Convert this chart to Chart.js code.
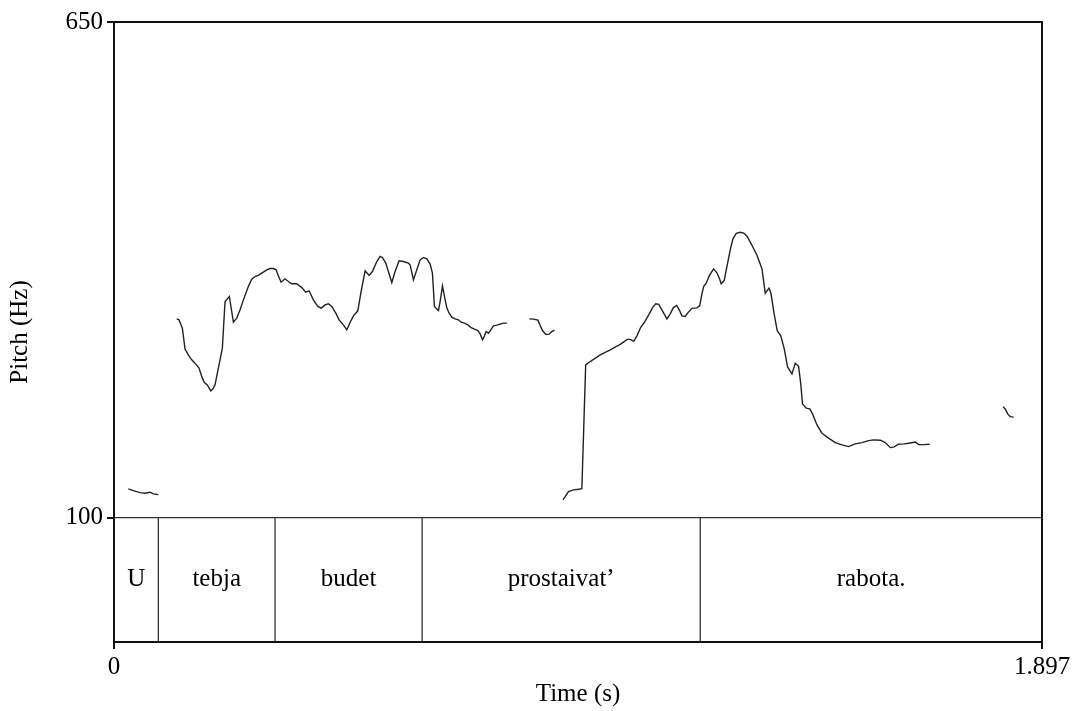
<!DOCTYPE html>
<html>
<head>
<meta charset="utf-8">
<script src="https://cdn.jsdelivr.net/npm/chart.js@4.4.1/dist/chart.umd.min.js"></script>
<style>
  html, body { margin: 0; padding: 0; background: #fff; }
  #wrap { width: 1074px; height: 711px; position: relative; }
</style>
</head>
<body>
<div id="wrap"><canvas id="c"></canvas></div>
<script>
// Pitch contour (time in s, F0 in Hz), one array per voiced stretch
const pitchSeg1 = [
  [0.0292,131.9],[0.0395,130.0],[0.0532,127.8],[0.0634,127.1],[0.0736,128.2],[0.0804,126.3],[0.0906,125.5]
];
const pitchSeg2 = [
  [0.1282,320.6],[0.1329,319.5],[0.1397,310.3],[0.1452,287.0],[0.1519,280.6],[0.1589,275.1],[0.1656,271.4],
  [0.1738,265.9],[0.1806,254.8],[0.1847,249.9],[0.1908,247.3],[0.1978,240.7],[0.2018,242.6],[0.2065,247.3],
  [0.2133,265.9],[0.2215,288.1],[0.2270,339.8],[0.2358,345.4],[0.2440,316.9],[0.2509,321.4],[0.2577,330.6],
  [0.2658,343.6],[0.2746,356.5],[0.2816,364.7],[0.2883,367.6],[0.2965,369.4],[0.3053,372.4],[0.3123,375.0],
  [0.3190,376.4],[0.3258,376.4],[0.3313,375.0],[0.3360,368.3],[0.3415,361.3],[0.3497,365.0],[0.3564,362.0],
  [0.3634,359.5],[0.3736,359.5],[0.3838,355.3],[0.3920,350.2],[0.3988,351.7],[0.4076,341.7],[0.4166,334.3],
  [0.4233,332.5],[0.4315,336.1],[0.4382,337.3],[0.4452,334.3],[0.4534,326.9],[0.4601,319.5],[0.4689,313.9],
  [0.4759,308.4],[0.4826,316.5],[0.4894,323.9],[0.4984,329.5],[0.5051,350.9],[0.5133,373.9],[0.5215,368.7],
  [0.5282,373.1],[0.5372,384.2],[0.5440,389.8],[0.5487,388.7],[0.5556,382.4],[0.5609,373.1],[0.5679,360.9],
  [0.5746,373.1],[0.5828,385.0],[0.5916,384.2],[0.6018,382.4],[0.6053,380.6],[0.6121,363.9],[0.6190,375.0],
  [0.6258,386.1],[0.6325,388.7],[0.6395,387.2],[0.6462,381.3],[0.6509,371.3],[0.6530,352.8],[0.6550,334.3],
  [0.6599,331.4],[0.6632,329.8],[0.6667,339.8],[0.6714,357.2],[0.6755,345.4],[0.6804,332.5],[0.6851,326.9],
  [0.6906,322.5],[0.6973,320.6],[0.7041,319.5],[0.7096,316.9],[0.7164,315.8],[0.7233,313.9],[0.7301,310.9],
  [0.7368,309.2],[0.7438,307.6],[0.7485,303.9],[0.7532,297.3],[0.7573,301.7],[0.7607,306.5],[0.7654,304.7],
  [0.7703,308.4],[0.7757,312.8],[0.7826,313.6],[0.7894,314.7],[0.7961,315.8],[0.8031,315.8]
];
const pitchSeg3 = [
  [0.8493,320.6],[0.8575,320.3],[0.8665,319.2],[0.8712,313.2],[0.8759,307.6],[0.8828,303.2],[0.8896,303.6],
  [0.8951,306.5],[0.9004,308.1]
];
const pitchSeg4 = [
  [0.9176,119.7],[0.9223,123.3],[0.9290,128.9],[0.9393,130.8],[0.9495,131.5],[0.9564,132.2],[0.9642,269.5],
  [0.9734,273.2],[0.9939,280.6],[1.0143,286.2],[1.0348,292.3],[1.0491,297.8],[1.0552,297.8],[1.0624,295.6],
  [1.0695,302.3],[1.0767,311.2],[1.0849,317.3],[1.0930,325.0],[1.1012,333.4],[1.1074,337.3],[1.1135,336.7],
  [1.1217,328.9],[1.1303,320.6],[1.1370,326.1],[1.1431,332.8],[1.1503,335.4],[1.1554,330.6],[1.1609,323.9],
  [1.1677,323.2],[1.1738,327.8],[1.1814,332.3],[1.1916,332.8],[1.1973,335.0],[1.2018,348.4],[1.2055,356.7],
  [1.2106,360.2],[1.2168,368.3],[1.2256,376.1],[1.2325,371.7],[1.2382,364.5],[1.2413,359.5],[1.2474,363.3],
  [1.2536,380.6],[1.2597,397.2],[1.2652,409.4],[1.2720,415.5],[1.2802,416.6],[1.2873,415.7],[1.2945,412.0],
  [1.3041,402.2],[1.3143,391.1],[1.3245,376.3],[1.3313,349.1],[1.3389,354.7],[1.3429,349.1],[1.3487,328.4],
  [1.3558,307.3],[1.3630,301.7],[1.3701,287.3],[1.3769,267.3],[1.3859,259.5],[1.3926,271.4],[1.3994,267.9],
  [1.4039,248.4],[1.4074,226.2],[1.4151,221.5],[1.4223,220.7],[1.4288,214.0],[1.4370,202.9],[1.4472,193.7],
  [1.4607,188.2],[1.4744,183.3],[1.4881,180.7],[1.5016,178.8],[1.5153,181.8],[1.5290,183.3],[1.5425,185.5],
  [1.5528,186.3],[1.5665,185.9],[1.5767,183.3],[1.5869,177.7],[1.5937,178.2],[1.6039,181.5],[1.6141,181.8],
  [1.6243,182.6],[1.6380,184.0],[1.6448,181.0],[1.6550,181.0],[1.6673,181.5]
];
const pitchSeg5 = [
  [1.8174,223.2],[1.8221,220.3],[1.8268,215.1],[1.8323,212.1],[1.8391,211.5]
];

// Word tier: interval boundaries (s) and the words between them
const tierBounds = [0, 0.0906, 0.3292, 0.6299, 1.1984, 1.897];
const tierWords = ['U', 'tebja', 'budet', 'prostaivat\u2019', 'rabota.'];

// Axis ticks
const timeTicks = [0, 1.897];
const pitchTicks = [100, 650];

const T_MAX = 1.897;
const F_MIN = 100, F_MAX = 650;
const TIER_BOTTOM = -38;   // value range below F_MIN holds the word tier

const FONT = '"Liberation Serif", "Times New Roman", serif';
Chart.defaults.font.family = FONT;
Chart.defaults.font.size = 25;
Chart.defaults.color = '#000';

const toXY = arr => arr.map(p => ({ x: p[0], y: p[1] }));

const lineStyle = {
  showLine: true, pointRadius: 0, pointHoverRadius: 0,
  borderColor: '#222', borderWidth: 1.4, tension: 0
};
const tierLine = {
  showLine: true, pointRadius: 0, pointHoverRadius: 0,
  borderColor: '#333', borderWidth: 1.3, tension: 0
};

const datasets = [pitchSeg1, pitchSeg2, pitchSeg3, pitchSeg4, pitchSeg5]
  .map(seg => Object.assign({ data: toXY(seg) }, lineStyle));

// tier separator at the bottom of the pitch range
datasets.push(Object.assign({ data: [{ x: 0, y: F_MIN }, { x: T_MAX, y: F_MIN }] }, tierLine));
// interior word boundaries
tierBounds.slice(1, -1).forEach(b => {
  datasets.push(Object.assign({ data: [{ x: b, y: TIER_BOTTOM }, { x: b, y: F_MIN }] }, tierLine));
});

const frameAndWords = {
  id: 'frameAndWords',
  afterDatasetsDraw(chart) {
    const { ctx, chartArea: a, scales } = chart;
    ctx.save();
    ctx.strokeStyle = '#111';
    ctx.lineWidth = 2;
    ctx.strokeRect(a.left, a.top, a.right - a.left, a.bottom - a.top);
    ctx.fillStyle = '#000';
    ctx.font = '25px ' + FONT;
    ctx.textAlign = 'center';
    ctx.textBaseline = 'middle';
    const yMid = scales.y.getPixelForValue((F_MIN + TIER_BOTTOM) / 2);
    tierWords.forEach((w, i) => {
      const xMid = scales.x.getPixelForValue((tierBounds[i] + tierBounds[i + 1]) / 2);
      ctx.fillText(w, xMid, yMid);
    });
    ctx.restore();
  }
};

new Chart(document.getElementById('c'), {
  type: 'scatter',
  data: { datasets },
  options: {
    responsive: true,
    maintainAspectRatio: false,
    animation: false,
    events: [],
    layout: { padding: { top: 22, right: 32, left: 0, bottom: 0 } },
    plugins: { legend: { display: false }, tooltip: { enabled: false } },
    scales: {
      x: {
        type: 'linear', min: 0, max: T_MAX,
        afterBuildTicks: s => { s.ticks = timeTicks.map(v => ({ value: v })); },
        afterFit: s => { s.height = 69; },
        ticks: { callback: v => String(v), padding: 3, maxRotation: 0, autoSkip: false },
        grid: { drawOnChartArea: false, tickLength: 7, color: '#111', lineWidth: 2 },
        border: { display: true, color: '#111', width: 2 },
        title: { display: true, text: 'Time (s)', padding: { top: 0, bottom: 2 } }
      },
      y: {
        type: 'linear', min: TIER_BOTTOM, max: F_MAX,
        afterBuildTicks: s => { s.ticks = pitchTicks.map(v => ({ value: v })); },
        afterFit: s => { s.width = 114; },
        ticks: { callback: v => String(v), padding: 4, autoSkip: false },
        grid: { drawOnChartArea: false, tickLength: 7, color: '#111', lineWidth: 2 },
        border: { display: true, color: '#111', width: 2 },
        title: { display: true, text: 'Pitch (Hz)', padding: { top: 5, bottom: 0 } }
      }
    }
  },
  plugins: [frameAndWords]
});
</script>
</body>
</html>
